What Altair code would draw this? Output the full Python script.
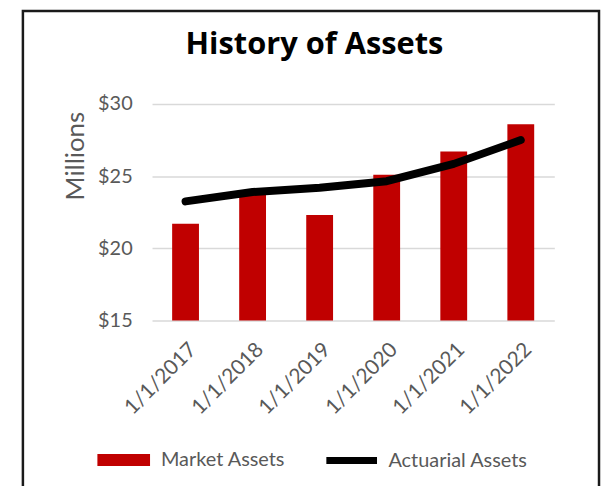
import altair as alt
import pandas as pd

dates = ["1/1/2017", "1/1/2018", "1/1/2019", "1/1/2020", "1/1/2021", "1/1/2022"]
market = [21.7, 24.0, 22.3, 25.1, 26.7, 28.6]
actuarial = [23.25, 23.9, 24.2, 24.65, 25.85, 27.5]
y_ticks = [15, 20, 25, 30]

df = pd.DataFrame({"date": dates, "market": market, "actuarial": actuarial})

FONT = "Lato"
GRAY = "#595959"
RED = "#c00000"

x_enc = alt.X("date:N", sort=dates, title=None,
              scale=alt.Scale(paddingInner=0.6, paddingOuter=0.3),
              axis=alt.Axis(labelAngle=-45, labelFontSize=21, labelFont=FONT,
                            labelColor=GRAY, labelPadding=18, ticks=False,
                            domain=False, grid=False))
y_scale = alt.Scale(domain=[15, 30], nice=False, zero=False)

base = alt.Chart(df)

bars = base.mark_bar().transform_calculate(series="'Market Assets'").encode(
    x=x_enc,
    y=alt.Y("market:Q", scale=y_scale, title="Millions",
            axis=alt.Axis(values=y_ticks, format="$.0f", labelFontSize=20,
                          labelFont=FONT, labelColor=GRAY, labelPadding=20,
                          ticks=False, tickSize=0, domain=False, grid=True,
                          gridColor="#d9d9d9", gridWidth=1.5,
                          titleFont=FONT, titleFontSize=26, titleFontWeight="normal",
                          titleColor=GRAY, titleAngle=-90, titleAlign="center",
                          titleBaseline="middle", titleX=-77, titleY=52)),
    y2=alt.datum(15),
    fill=alt.Fill("series:N", scale=alt.Scale(domain=["Market Assets"], range=[RED]),
                  legend=alt.Legend(title=None, orient="none", legendX=-55, legendY=332,
                                    padding=0, labelFont=FONT, labelFontSize=20,
                                    labelColor=GRAY, labelOffset=11,
                                    symbolType="M-1,-0.226H1V0.226H-1Z",
                                    symbolSize=2809, symbolStrokeWidth=0)),
)

line = base.mark_line(strokeWidth=8, strokeCap="round", strokeJoin="round").transform_calculate(
    series2="'Actuarial Assets'").encode(
    x=alt.X("date:N", sort=dates),
    y=alt.Y("actuarial:Q", scale=y_scale),
    stroke=alt.Stroke("series2:N", scale=alt.Scale(domain=["Actuarial Assets"], range=["black"]),
                      legend=alt.Legend(title=None, orient="none", legendX=172, legendY=330,
                                        padding=0, labelFont=FONT, labelFontSize=20,
                                        labelColor=GRAY, labelOffset=8,
                                        symbolType="stroke", symbolSize=2601,
                                        symbolStrokeWidth=7)),
)

frame = alt.Chart(alt.Data(values=[{"k": 1}])).mark_rect(
    fill="transparent", stroke="#1a1a1a", strokeWidth=2.5).encode(
    x=alt.value(-130), x2=alt.value(450), y=alt.value(-93.5), y2=alt.value(400))

chart = alt.layer(frame, bars, line).properties(
    width=405, height=218,
    padding={"left": 145, "top": 95, "right": 47, "bottom": 165},
    autosize=alt.AutoSizeParams(type="none"),
    title=alt.TitleParams("History of Assets", font="Open Sans", fontSize=31, fontWeight="bold",
                          color="black", anchor="middle", frame="group", dx=-39,
                          offset=0, baseline="alphabetic", dy=75),
).configure_view(stroke=None)

chart.save("out.html", embed_options={"renderer": "svg", "actions": False})
